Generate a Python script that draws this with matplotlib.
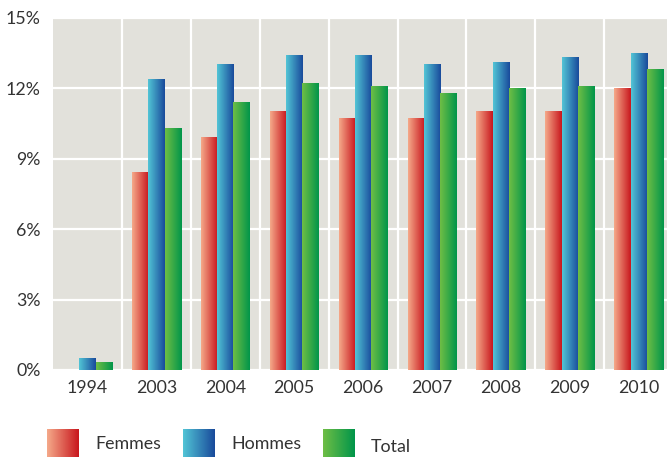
import numpy as np
import matplotlib
matplotlib.use("Agg")
import matplotlib.pyplot as plt
from matplotlib.colors import LinearSegmentedColormap

years = ["1994", "2003", "2004", "2005", "2006", "2007", "2008", "2009", "2010"]
femmes = [0.0, 8.4, 9.9, 11.0, 10.7, 10.7, 11.0, 11.0, 12.0]
hommes = [0.5, 12.4, 13.0, 13.4, 13.4, 13.0, 13.1, 13.3, 13.5]
total = [0.3, 10.3, 11.4, 12.2, 12.1, 11.8, 12.0, 12.1, 12.8]
series_names = ["Femmes", "Hommes", "Total"]
yticks = [0, 3, 6, 9, 12, 15]

# left/right colours of the horizontal gradient of each series
grads = [("#F5AA8A", "#C8161D"), ("#52C5D6", "#194A9B"), ("#6FBE45", "#00954A")]
cmaps = [LinearSegmentedColormap.from_list("g%d" % i, g) for i, g in enumerate(grads)]
grad = np.linspace(0, 1, 256).reshape(1, -1)

plt.rcParams['font.family'] = ['Lato', 'DejaVu Sans']

fig = plt.figure(figsize=(6.67, 4.57), dpi=100)
ax = fig.add_axes([53/667, 1 - 370/457, 1 - 53/667, 352/457])
ax.set_facecolor("#E2E1DB")

x = np.arange(len(years))
w = 0.237
for k, vals in enumerate([femmes, hommes, total]):
    bars = ax.bar(x + (k - 1) * w, vals, width=w, color="none", zorder=2)
    for b in bars:
        if b.get_height() <= 0:
            continue
        x0 = b.get_x()
        ax.imshow(grad, cmap=cmaps[k], aspect="auto", interpolation="bilinear",
                  extent=[x0, x0 + b.get_width(), 0, b.get_height()], zorder=2)

ax.set_xlim(-0.5, 8.41)
ax.set_ylim(0, 15)
ax.set_yticks(yticks)
ax.set_yticklabels(["%d%%" % v for v in yticks])
ax.set_xticks(x)
ax.set_xticklabels(years)
ax.set_xticks(x[:-1] + 0.5, minor=True)
ax.grid(True, axis="y", which="major", color="white", lw=1.6, zorder=1)
ax.grid(True, axis="x", which="minor", color="white", lw=1.6, zorder=1)
ax.grid(False, axis="x", which="major")
ax.tick_params(axis="both", which="both", length=0, labelsize=12.8, colors="#333333")
ax.tick_params(axis="x", pad=7)
ax.tick_params(axis="y", pad=9)
for s in ax.spines.values():
    s.set_visible(False)

# legend drawn below in pixel coordinates
lg = fig.add_axes([0, 0, 1, 1], facecolor="none")
lg.set_xlim(0, 667)
lg.set_ylim(457, 0)
lg.axis("off")
leg_sq = [47, 183, 323]
leg_txt = [95, 231, 371]
leg_y = [444, 444, 447]
for k, name in enumerate(series_names):
    lg.imshow(grad, cmap=cmaps[k], aspect="auto", interpolation="bilinear",
              extent=[leg_sq[k], leg_sq[k] + 32, 460, 429])
    lg.text(leg_txt[k], leg_y[k], name, fontsize=12.8, color="#333333", va="center", ha="left")
lg.set_xlim(0, 667)
lg.set_ylim(457, 0)

fig.savefig("out.png", dpi=100)
